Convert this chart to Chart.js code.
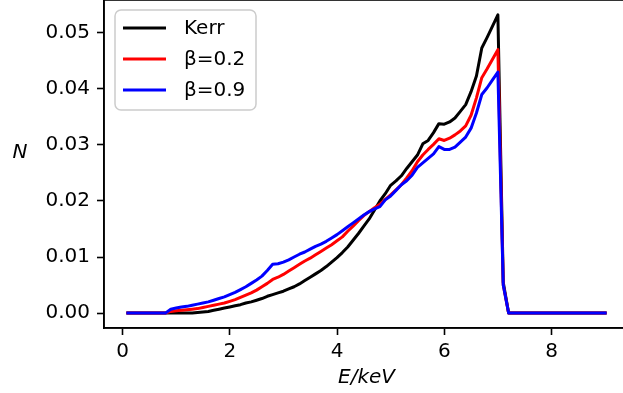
<!DOCTYPE html>
<html>
<head>
<meta charset="utf-8">
<script src="https://cdn.jsdelivr.net/npm/chart.js@4"></script>
<style>
  html, body { margin: 0; padding: 0; overflow: hidden; background: #fff; }
  canvas { display: block; }
</style>
</head>
<body>
<canvas id="grafico" width="650" height="393"></canvas>
<script>
// energias (keV), passo 0.1 de 0.1 ate 9.0
const energias = [];
for (let i = 1; i <= 90; i++) energias.push(+(i / 10).toFixed(1));

const kerr = [
  0, 0, 0, 0, 0, 0, 0, 0, 0, 0,
  0, 0, 0, 0.0001, 0.0002, 0.0003, 0.0005, 0.0007, 0.0009, 0.0011,
  0.0013, 0.0015, 0.0018, 0.0020, 0.0023, 0.0026, 0.0030, 0.0033, 0.0036, 0.0039,
  0.0043, 0.0047, 0.0052, 0.0058, 0.0064, 0.0070, 0.0076, 0.0083, 0.0091, 0.0099,
  0.0108, 0.0118, 0.0130, 0.0142, 0.0155, 0.0168, 0.0184, 0.0200, 0.0213, 0.0228,
  0.0236, 0.0245, 0.0258, 0.0270, 0.0282, 0.0302, 0.0308, 0.0322, 0.0338, 0.0337,
  0.0341, 0.0348, 0.0360, 0.0372, 0.0395, 0.0423, 0.0473, 0.0492, 0.0512, 0.0532,
  0.0055, 0, 0, 0, 0, 0, 0, 0, 0, 0,
  0, 0, 0, 0, 0, 0, 0, 0, 0, 0
];

const beta02 = [
  0, 0, 0, 0, 0, 0, 0, 0, 0.0003, 0.0004,
  0.0005, 0.0006, 0.0007, 0.0008, 0.0010, 0.0012, 0.0014, 0.0016, 0.0018, 0.0021,
  0.0024, 0.0028, 0.0032, 0.0036, 0.0041, 0.0047, 0.0053, 0.0060, 0.0064, 0.0069,
  0.0075, 0.0081, 0.0087, 0.0093, 0.0098, 0.0104, 0.0110, 0.0116, 0.0122, 0.0129,
  0.0136, 0.0146, 0.0155, 0.0165, 0.0174, 0.0181, 0.0188, 0.0194, 0.0203, 0.0211,
  0.0220, 0.0229, 0.0241, 0.0254, 0.0270, 0.0282, 0.0292, 0.0301, 0.0311, 0.0308,
  0.0312, 0.0318, 0.0325, 0.0334, 0.0353, 0.0384, 0.0420, 0.0436, 0.0453, 0.0470,
  0.0050, 0, 0, 0, 0, 0, 0, 0, 0, 0,
  0, 0, 0, 0, 0, 0, 0, 0, 0, 0
];

const beta09 = [
  0, 0, 0, 0, 0, 0, 0, 0, 0.0007, 0.0009,
  0.0011, 0.0012, 0.0014, 0.0016, 0.0018, 0.0020, 0.0023, 0.0026, 0.0029, 0.0033,
  0.0037, 0.0042, 0.0047, 0.0053, 0.0059, 0.0066, 0.0076, 0.0087, 0.0088, 0.0091,
  0.0095, 0.0100, 0.0105, 0.0109, 0.0114, 0.0119, 0.0123, 0.0128, 0.0134, 0.0140,
  0.0147, 0.0154, 0.0161, 0.0168, 0.0175, 0.0181, 0.0186, 0.0190, 0.0202, 0.0209,
  0.0219, 0.0229, 0.0236, 0.0246, 0.0260, 0.0268, 0.0276, 0.0284, 0.0297, 0.0292,
  0.0292, 0.0296, 0.0305, 0.0314, 0.0330, 0.0357, 0.0390, 0.0402, 0.0416, 0.0430,
  0.0050, 0, 0, 0, 0, 0, 0, 0, 0, 0,
  0, 0, 0, 0, 0, 0, 0, 0, 0, 0
];

const xTicks = [0, 2, 4, 6, 8];
const yTicks = [0, 0.01, 0.02, 0.03, 0.04, 0.05];

const fonte = "'DejaVu Sans', sans-serif";

function pontos(serie) {
  return energias.map((e, i) => ({ x: e, y: serie[i] }));
}

// moldura (top/right) + legenda + rotulo N
const extras = {
  id: "extras",
  afterDatasetsDraw(chart) {
    const ctx = chart.ctx;
    const a = chart.chartArea;
    ctx.save();
    ctx.strokeStyle = "#000";
    ctx.lineWidth = 1.6;
    ctx.strokeRect(a.left, a.top, a.right - a.left, a.bottom - a.top);

    // legenda
    const bx = 115, by = 10, bw = 141, bh = 100, r = 6;
    ctx.beginPath();
    ctx.moveTo(bx + r, by);
    ctx.arcTo(bx + bw, by, bx + bw, by + bh, r);
    ctx.arcTo(bx + bw, by + bh, bx, by + bh, r);
    ctx.arcTo(bx, by + bh, bx, by, r);
    ctx.arcTo(bx, by, bx + bw, by, r);
    ctx.closePath();
    ctx.fillStyle = "rgba(255,255,255,0.8)";
    ctx.fill();
    ctx.strokeStyle = "#cccccc";
    ctx.lineWidth = 1.5;
    ctx.stroke();

    const ordem = ["Kerr", "β=0.2", "β=0.9"];
    ctx.font = "20px " + fonte;
    ctx.textBaseline = "middle";
    ordem.forEach((nome, i) => {
      const ds = chart.data.datasets.find((d) => d.label === nome);
      const yy = 28 + i * 31;
      ctx.strokeStyle = ds.borderColor;
      ctx.lineWidth = 3;
      ctx.beginPath();
      ctx.moveTo(123, yy);
      ctx.lineTo(166, yy);
      ctx.stroke();
      ctx.fillStyle = "#000";
      ctx.fillText(nome, 184, yy + 1);
    });

    ctx.font = "italic 20px " + fonte;
    ctx.textAlign = "center";
    ctx.fillText("N", 20, 153);
    ctx.restore();
  },
};

const ctx = document.getElementById("grafico").getContext("2d");

new Chart(ctx, {
  type: "line",
  data: {
    datasets: [
      { label: "Kerr", data: pontos(kerr), borderColor: "#000000", order: 3 },
      { label: "β=0.2", data: pontos(beta02), borderColor: "#ff0000", order: 2 },
      { label: "β=0.9", data: pontos(beta09), borderColor: "#0000ff", order: 1 },
    ],
  },
  options: {
    responsive: false,
    animation: false,
    events: [],
    layout: { padding: { top: 0, left: 0, right: 21, bottom: 0 } },
    elements: {
      line: {
        borderWidth: 3,
        tension: 0,
        fill: false,
        borderJoinStyle: "round",
        borderCapStyle: "square",
      },
      point: { radius: 0, hoverRadius: 0 },
    },
    plugins: {
      legend: { display: false },
      tooltip: { enabled: false },
    },
    scales: {
      x: {
        type: "linear",
        min: -0.345,
        max: 9.445,
        afterBuildTicks: (s) => { s.ticks = xTicks.map((v) => ({ value: v })); },
        afterFit: (s) => { s.height = 65; s.paddingLeft = 0; s.paddingRight = 0; },
        grid: { drawOnChartArea: false, drawTicks: true, tickLength: 7, tickColor: "#000", tickWidth: 1.6 },
        border: { display: true, color: "#000", width: 1.6 },
        ticks: {
          padding: 5,
          color: "#000",
          maxRotation: 0,
          font: { family: fonte, size: 20 },
          callback: (v) => String(v),
        },
        title: {
          display: true,
          text: "E/keV",
          color: "#000",
          font: { family: fonte, size: 20, style: "italic" },
          padding: { top: 0, bottom: 3 },
        },
      },
      y: {
        type: "linear",
        min: -0.00266,
        max: 0.05586,
        afterBuildTicks: (s) => { s.ticks = yTicks.map((v) => ({ value: v })); },
        afterFit: (s) => { s.width = 104; s.paddingTop = 0; s.paddingBottom = 0; },
        grid: { drawOnChartArea: false, drawTicks: true, tickLength: 7, tickColor: "#000", tickWidth: 1.6 },
        border: { display: true, color: "#000", width: 1.6 },
        ticks: {
          padding: 7,
          color: "#000",
          font: { family: fonte, size: 20 },
          callback: (v) => v.toFixed(2),
        },
      },
    },
  },
  plugins: [extras],
});
</script>
</body>
</html>
